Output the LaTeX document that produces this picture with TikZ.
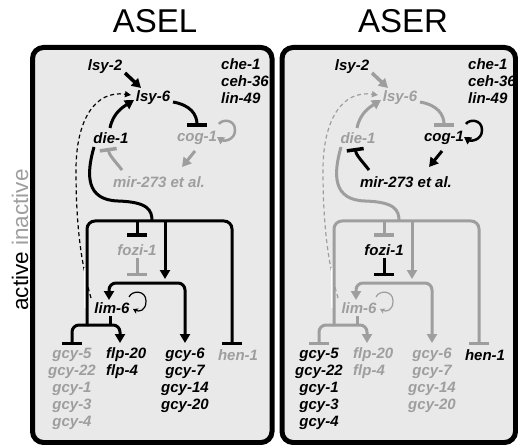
\documentclass[tikz,border=0pt]{standalone}
\usepackage{fontspec}
\setmainfont{Liberation Sans}
\usetikzlibrary{arrows.meta}

\definecolor{offgrey}{RGB}{158,158,158}
\definecolor{panelfill}{RGB}{233,233,233}

\tikzset{
  gene/.style={font=\fontsize{15bp}{17bp}\selectfont\bfseries\itshape, inner sep=0pt},
  link/.style={line width=3bp},
  act/.style={link, -{Triangle[length=9bp,width=10bp]}},
  inh/.style={link, -{Bar[width=20bp,line width=3.5bp]}},
  panel/.style={draw=black, line width=5bp, fill=panelfill, rounded corners=11bp},
  title/.style={font=\fontsize{33bp}{36bp}\selectfont, inner sep=0pt},
}

% One cell's regulatory network; axA / axB set the colours of the two branches
\newcommand\grnNetwork{%
  % upper loop
  \node[gene, color=black] (lsy2) at (105,67) {lsy-2};
  \node[gene, axA] (lsy6) at (153,98) {lsy-6};
  \node[gene, axA] (die1) at (111,138) {die-1};
  \node[gene, axB] (cog1) at (197,138) {cog-1};
  \node[gene, axB] (mir) at (159,182) {mir-273 et al.};
  \node[gene, color=black, anchor=west] (che1) at (221,64) {che-1};
  \node[gene, color=black, anchor=west] (ceh36) at (221,81) {ceh-36};
  \node[gene, color=black, anchor=west] (lin49) at (221,98) {lin-49};
  % lower part
  \node[gene, axB] (fozi) at (137,250) {fozi-1};
  \node[gene, axA] (lim6) at (112,308) {lim-6};
  \foreach \t [count=\i] in {gcy-5,gcy-22,gcy-1,gcy-3,gcy-4}
    \node[gene, axB] (gA\i) at (72,{355+17*(\i-1)}) {\t};
  \foreach \t [count=\i] in {flp-20,flp-4}
    \node[gene, axA, anchor=west] (fl\i) at (106,{355+17*(\i-1)}) {\t};
  \foreach \t [count=\i] in {gcy-6,gcy-7,gcy-14,gcy-20}
    \node[gene, axA] (gB\i) at (185,{355+17*(\i-1)}) {\t};
  \node[gene, axB] (hen1) at (238,355) {hen-1};
  \coordinate (jn) at (152,221);
  % feedback from lim-6 to lsy-6
  \draw[axA, line width=1.2bp, dash pattern=on 4bp off 3bp, -{Triangle[length=6bp,width=6bp]}]
    ([shift={(-21,-10)}]lim6.center) .. controls (80,260) and (76,220) .. (76,170)
    .. controls (76,120) and (95,90) .. ([shift={(-22,-3)}]lsy6.center);
  % upper loop connectors
  \draw[act, axA, line width=3.5bp] ([shift={(20,6)}]lsy2.center) -- ([shift={(-12,-10)}]lsy6.center);
  \draw[act, axA] ([shift={(-1,-10)}]die1.center) .. controls (113,113) and (123,107) .. ([shift={(-19,2)}]lsy6.center);
  \draw[inh, axA] ([shift={(20,4)}]lsy6.center) .. controls (190,105) and (197,114) .. ([shift={(0,-11)}]cog1.center);
  \draw[axB, line width=2.5bp, -{Triangle[length=7bp,width=8bp]}]
    ([shift={(22,-14)}]cog1.center) .. controls (222,119) and (235,119) .. (235,130)
    .. controls (235,141) and (223,141) .. ([shift={(20,-1)}]cog1.center);
  \draw[act, axB] ([shift={(-2,13)}]cog1.center) -- ([shift={(23,-15)}]mir.center);
  \draw[link, axB, -{Bar[width=17bp,line width=3.5bp]}] ([shift={(-37,-12)}]mir.center)
    .. controls (115,161) and (109,155) .. ([shift={(-3,10)}]die1.center);
  % die-1 output into the lower cascade
  \draw[link, axA] ([shift={(-17,9)}]die1.center) .. controls (86,175) and (86,200) .. (118,201)
    .. controls (148,202) and (152,210) .. (jn);
  \draw[white, line width=2bp] (84.5,268) -- (84.5,308);
  \draw[link, axA, rounded corners=8bp, -{Bar[width=20bp,line width=3.5bp]}]
    (87,326) -- (87,221) -- (232,221) -- ([shift={(-6,-10)}]hen1.center);
  \draw[inh, axA] (137,221) -- ([shift={(0,-13)}]fozi.center);
  \draw[act, axA] (165,221) -- (165,279);
  \draw[inh, axB] ([shift={(0,8)}]fozi.center) -- ([shift={(0,26)}]fozi.center);
  \draw[link, axA, rounded corners=7bp, {Triangle[length=9bp,width=10bp]}-{Triangle[length=9bp,width=10bp]}]
    ([shift={(-3,-8)}]lim6.center) -- (109,283) -- (185,283) -- ([shift={(0,-12)}]gB1.center);
  \draw[axA, line width=1.2bp, -{Stealth[length=5bp,width=6bp]}]
    (129,297) .. controls (132,290) and (146,290) .. (146,301)
    .. controls (146,311) and (139,312) .. ([shift={(21,1)}]lim6.center);
  \draw[link, axA] ([shift={(-2,8)}]lim6.center) -- (110,326);
  \draw[link, axA, rounded corners=7bp, {Bar[width=20bp,line width=3.5bp]}-{Triangle[length=9bp,width=10bp]}]
    ([shift={(0,-10)}]gA1.center) -- (72,325) -- (120,325) -- (120,343);
}

\begin{document}
\begin{tikzpicture}[x=1bp, y=-1bp]
  \useasboundingbox (0,0) rectangle (518,445);
  \fill[white] (0,0) rectangle (518,445);
  % cell titles and frames
  \node[title] (asel) at (155,21.5) {ASEL};
  \node[title] (aser) at (403,21.5) {ASER};
  \draw[panel] (32.5,47.5) rectangle (272,442.5);
  \draw[panel] (282,47.5) rectangle (515.5,442.5);
  % state legend
  \node[rotate=90, font=\fontsize{22.5bp}{26bp}\selectfont, inner sep=0pt] (state) at (20,240)
    {active \textcolor{offgrey}{inactive}};
  % left cell
  \begin{scope}[name prefix=L-, axA/.style={color=black}, axB/.style={color=offgrey}]
    \grnNetwork
  \end{scope}
  % right cell
  \begin{scope}[xshift=247bp, name prefix=R-, axA/.style={color=offgrey}, axB/.style={color=black}]
    \grnNetwork
  \end{scope}
\end{tikzpicture}
\end{document}
